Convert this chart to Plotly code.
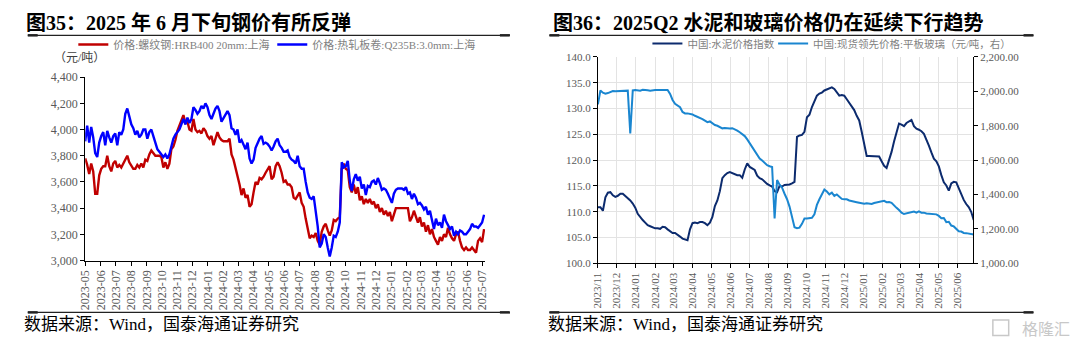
import plotly.graph_objects as go
import pandas as pd

# ---------------- data: left chart (steel prices, yuan/ton) ----------------
steel_dates = pd.date_range("2023-05-01", periods=200, freq="4D")
rebar_hrb400 = [
    3780, 3730, 3660, 3740, 3680, 3510, 3510, 3650, 3700, 3720,
    3720, 3800, 3720, 3680, 3740, 3760, 3710, 3730, 3710, 3740,
    3780, 3800, 3750, 3720, 3700, 3700, 3730, 3710, 3740, 3710,
    3770, 3760, 3810, 3840, 3820, 3800, 3800, 3800, 3790, 3710,
    3750, 3700, 3740, 3850, 3870, 3920, 3990, 4030, 4070, 4110,
    4050, 4060, 4000, 3990, 4080, 4000, 3980, 3990, 3970, 4010,
    3990, 3950, 3930, 3950, 3880, 3930, 3980, 3940, 3920, 3910,
    3910, 3910, 3930, 3810, 3770, 3710, 3650, 3580, 3500, 3550,
    3480, 3500, 3410, 3430, 3520, 3600, 3580, 3630, 3620, 3640,
    3670, 3700, 3720, 3620, 3640, 3720, 3750, 3720, 3670, 3600,
    3610, 3580, 3580, 3560, 3480, 3470, 3500, 3520, 3440, 3410,
    3320, 3230, 3170, 3190, 3180, 3210, 3150, 3120, 3220, 3260,
    3280, 3230, 3190, 3230, 3310, 3300, 3320, 3330, 3700, 3740,
    3700, 3690, 3560, 3520, 3580, 3510, 3560, 3460, 3490, 3430,
    3470, 3440, 3470, 3430, 3450, 3400, 3430, 3370, 3400, 3350,
    3380, 3340, 3370, 3300, 3360, 3400, 3400, 3400, 3400, 3400,
    3400, 3400, 3300, 3330, 3380, 3330, 3290, 3330, 3260, 3290,
    3220, 3270, 3200, 3240, 3180, 3150, 3120, 3180, 3150, 3200,
    3180, 3250, 3200, 3170, 3150, 3200, 3220, 3150, 3100, 3080,
    3100, 3080, 3080, 3100, 3080, 3060, 3150, 3170, 3140, 3240,
]
hot_rolled_q235b = [
    3910, 4030, 3900, 4020, 3940, 3820, 3790, 3900, 3950, 3980,
    3880, 3990, 3940, 3900, 3950, 3970, 3880, 3980, 3960, 4000,
    4120, 4160, 4100, 4040, 4010, 3960, 3990, 3940, 3960, 4000,
    4000, 3930, 3980, 4000, 3950, 3890, 3850, 3830, 3810, 3790,
    3810, 3780, 3810, 3870, 3930, 3960, 3980, 4000, 4040, 4080,
    4040, 4090, 4050, 4080, 4170, 4150, 4120, 4140, 4180, 4160,
    4200, 4170, 4110, 4080, 4120, 4160, 4180, 4140, 4060, 4090,
    4120, 4140, 4110, 4010, 4000, 3960, 4000, 3900, 3920, 3880,
    3850, 3900, 3780, 3740, 3770, 3860, 3900, 3930, 3950, 3890,
    3900, 3890, 3870, 3840, 3870, 3910, 3930, 3880, 3860, 3830,
    3830, 3840, 3790, 3770, 3760, 3740, 3800, 3720, 3700, 3700,
    3600, 3520, 3480, 3470, 3490, 3380, 3260, 3100, 3130, 3200,
    3180, 3100, 3030, 3100, 3190, 3180, 3220, 3290, 3750, 3710,
    3720, 3760, 3610, 3530, 3620, 3660, 3610, 3640, 3550, 3580,
    3500, 3570, 3560, 3600, 3610, 3580, 3630, 3590, 3540, 3550,
    3540, 3510, 3470, 3440, 3510, 3540, 3550, 3550, 3550, 3540,
    3560, 3510, 3520, 3470, 3510, 3480, 3430, 3440, 3420, 3390,
    3410, 3350, 3380, 3310, 3240, 3320, 3270, 3290, 3250, 3350,
    3300, 3270, 3240, 3260, 3190, 3220, 3200, 3230, 3220, 3200,
    3200, 3220, 3240, 3280, 3260, 3260, 3250, 3270, 3290, 3350,
]
steel_names = ["价格:螺纹钢:HRB400 20mm:上海", "价格:热轧板卷:Q235B:3.0mm:上海"]

# ---------------- data: right chart (cement index / glass price) ----------------
bm_dates = pd.date_range("2023-11-01", periods=152, freq="4D")
cement_index = [
    110.9, 110.9, 110.2, 112.8, 113.7, 113.8, 113.2, 112.9, 113.1, 113.5,
    113.5, 113.1, 112.6, 112.2, 111.6, 110.8, 109.6, 108.9, 108.4, 107.9,
    107.4, 107.2, 107.0, 106.8, 106.8, 106.7, 107.1, 107.0, 106.6, 106.3,
    105.9, 105.9, 105.6, 105.2, 104.8, 104.7, 104.5, 106.6, 107.8, 107.9,
    107.8, 108.0, 108.0, 107.8, 107.4, 107.9, 109.0, 111.1, 112.2, 114.0,
    116.5, 117.1, 117.5, 117.7, 117.5, 117.3, 117.1, 117.1, 116.6, 118.2,
    119.4, 118.7, 118.4, 118.1, 117.0, 116.5, 116.3, 115.8, 115.4, 115.1,
    114.9, 114.0, 113.8, 115.0, 114.9, 115.2, 115.2, 115.3, 115.5, 115.8,
    124.5, 124.8, 124.9, 125.5, 128.3, 128.8, 130.3, 131.6, 132.5, 132.9,
    133.1, 133.5, 133.7, 133.9, 134.1, 133.8, 133.2, 132.5, 132.6, 132.5,
    131.8, 131.1, 130.4, 129.7, 128.6, 127.7, 125.5, 122.9, 120.8, 120.8,
    120.8, 120.8, 120.8, 120.7, 119.8, 118.9, 118.5, 119.9, 121.6, 123.6,
    125.6, 127.1, 126.9, 126.6, 127.2, 127.5, 127.8, 126.6, 126.1, 125.9,
    125.6, 125.1, 124.1, 122.8, 121.5, 120.3, 119.8, 118.8, 117.1, 115.7,
    115.1, 114.1, 115.5, 115.8, 115.7, 114.6, 113.2, 112.3, 111.5, 110.9,
    110.0, 108.4,
]
glass_price = [
    1924, 2005, 1992, 1986, 1990, 1995, 2002, 2001, 2002, 2004,
    2005, 2006, 2004, 1756, 2006, 2008, 2007, 2004, 2009, 2010,
    2007, 2004, 2007, 2008, 2008, 2008, 2010, 2011, 2008, 1985,
    1950, 1928, 1918, 1908, 1880, 1872, 1872, 1870, 1866, 1858,
    1853, 1847, 1839, 1830, 1821, 1825, 1813, 1804, 1800, 1791,
    1785, 1787, 1785, 1784, 1786, 1780, 1772, 1762, 1753, 1740,
    1721, 1698, 1676, 1653, 1632, 1610, 1598, 1585, 1571, 1565,
    1560, 1261, 1485, 1458, 1440, 1405, 1373, 1330, 1270, 1210,
    1205, 1208, 1230, 1261, 1261, 1265, 1265, 1285, 1340, 1373,
    1401, 1429, 1418, 1401, 1411, 1392, 1401, 1385, 1375, 1373,
    1373, 1366, 1364, 1360, 1356, 1353, 1349, 1347, 1349, 1346,
    1345, 1351, 1355, 1358, 1364, 1364, 1356, 1357, 1352, 1340,
    1323, 1310, 1295, 1287, 1290, 1295, 1296, 1301, 1295, 1302,
    1295, 1295, 1290, 1289, 1289, 1289, 1285, 1276, 1263, 1264,
    1240, 1242, 1220, 1215, 1200, 1187, 1185, 1177, 1176, 1172,
    1168, 1168,
]
bm_names = ["中国:水泥价格指数", "中国:现货领先价格:平板玻璃（元/吨，右）"]

# ---------------- layout helpers ----------------
W, H = 1080, 353
def px(x):
    return x / W
def py(y):
    return 1 - y / H

SERIF = "Liberation Serif, Noto Sans CJK SC, serif"
TITLE_FONT = dict(family="Liberation Serif, Noto Sans CJK SC", size=20, color="#000000")
TICK_GRAY = "#595959"

fig = go.Figure()

fig.add_trace(go.Scatter(x=steel_dates, y=rebar_hrb400, name=steel_names[0], mode="lines",
                         line=dict(color="#C00000", width=2.4), xaxis="x", yaxis="y", legend="legend"))
fig.add_trace(go.Scatter(x=steel_dates, y=hot_rolled_q235b, name=steel_names[1], mode="lines",
                         line=dict(color="#0000FF", width=2.4), xaxis="x", yaxis="y", legend="legend2"))
fig.add_trace(go.Scatter(x=bm_dates, y=cement_index, name=bm_names[0], mode="lines",
                         line=dict(color="#0C2B6E", width=2), xaxis="x2", yaxis="y2", legend="legend3"))
fig.add_trace(go.Scatter(x=bm_dates, y=glass_price, name=bm_names[1], mode="lines",
                         line=dict(color="#1A86D0", width=2), xaxis="x2", yaxis="y3", legend="legend4"))

axis_common = dict(showline=True, linecolor="#000000", linewidth=1, ticks="outside",
                   ticklen=4, tickcolor="#000000", zeroline=False)

def legend_at(x_line, y_center, size):
    return dict(orientation="h", x=px(x_line - 21), y=py(y_center - 4), xanchor="left", yanchor="middle",
                itemwidth=30, font=dict(size=size, color="#7F7F7F", family=SERIF),
                bgcolor="rgba(0,0,0,0)")

fig.update_layout(
    width=W, height=H,
    margin=dict(l=0, r=0, t=0, b=0),
    paper_bgcolor="#FFFFFF", plot_bgcolor="#FFFFFF",
    font=dict(family=SERIF, color=TICK_GRAY),
    xaxis=dict(domain=[px(79), px(483)], anchor="y", type="date",
               range=["2023-05-01", "2025-07-07"], tick0="2023-05-01", dtick="M1",
               tickformat="%Y-%m", tickangle=-90, showgrid=False,
               tickfont=dict(size=12, color=TICK_GRAY, family=SERIF), **axis_common),
    yaxis=dict(domain=[py(264), py(73)], anchor="x", range=[3000, 4400], dtick=200,
               tickformat=",d", showgrid=False,
               tickfont=dict(size=12, color=TICK_GRAY, family=SERIF), **axis_common),
    xaxis2=dict(domain=[px(597), px(976)], anchor="y2", type="date",
                range=["2023-11-01", "2025-06-26"], tick0="2023-11-01", dtick="M1",
                tickformat="%Y/%m", tickangle=-90, showgrid=True, gridcolor="#E3E3E3", gridwidth=1,
                tickfont=dict(size=11, color=TICK_GRAY, family=SERIF), **axis_common),
    yaxis2=dict(domain=[py(267), py(52)], anchor="x2", range=[100, 140], dtick=5,
                tickformat=".1f", showgrid=True, gridcolor="#E3E3E3", gridwidth=1,
                tickfont=dict(size=11, color=TICK_GRAY, family=SERIF), **axis_common),
    yaxis3=dict(overlaying="y2", anchor="x2", side="right", range=[1000, 2200], dtick=200,
                tickformat=",.2f", showgrid=False,
                tickfont=dict(size=11, color=TICK_GRAY, family=SERIF), **axis_common),
    legend=legend_at(88, 43, 11),
    legend2=legend_at(289, 43, 11),
    legend3=legend_at(668, 42, 10.5),
    legend4=legend_at(795, 42, 10.5),
    showlegend=True,
)

# titles, unit label, source notes
annotations = [
    dict(text="<b>图35：2025 年 6 月下旬钢价有所反弹</b>", x=px(17), y=py(17),
         xanchor="left", yanchor="middle", font=TITLE_FONT),
    dict(text="<b>图36：2025Q2 水泥和玻璃价格仍在延续下行趋势</b>", x=px(550), y=py(17),
         xanchor="left", yanchor="middle", font=TITLE_FONT),
    dict(text="（元/吨）", x=px(45), y=py(53), xanchor="left", yanchor="middle",
         font=dict(size=12, color="#404040", family=SERIF)),
    dict(text="数据来源：Wind，国泰海通证券研究", x=px(15), y=py(331), xanchor="left", yanchor="middle",
         font=dict(size=17, color="#000000", family=SERIF)),
    dict(text="数据来源：Wind，国泰海通证券研究", x=px(545), y=py(331), xanchor="left", yanchor="middle",
         font=dict(size=17, color="#000000", family=SERIF)),
    dict(text="格隆汇", x=px(1076), y=py(334), xanchor="right", yanchor="middle",
         font=dict(size=16, color="#C8C8C8", family="Noto Sans CJK SC")),
]
for a in annotations:
    a.update(xref="paper", yref="paper", showarrow=False)
fig.update_layout(annotations=annotations)

# separator rules under titles and above source notes
shapes = []
for (x0, x1) in [(21, 508), (548, 1037)]:
    for yy in (29.5, 318):
        shapes.append(dict(type="line", xref="paper", yref="paper", x0=px(x0), x1=px(x1),
                           y0=py(yy), y1=py(yy), line=dict(color="#222222", width=1.2)))
        shapes.append(dict(type="line", xref="paper", yref="paper", x0=px(x0), x1=px(x0 + 10),
                           y0=py(yy), y1=py(yy), line=dict(color="#222222", width=2.5)))
        shapes.append(dict(type="line", xref="paper", yref="paper", x0=px(x1 - 10), x1=px(x1),
                           y0=py(yy), y1=py(yy), line=dict(color="#222222", width=2.5)))
# small watermark box
shapes.append(dict(type="rect", xref="paper", yref="paper", x0=px(996), x1=px(1012),
                   y0=py(342), y1=py(326), line=dict(color="#C8C8C8", width=1.5)))
fig.update_layout(shapes=shapes)

fig.write_html("out.html")
